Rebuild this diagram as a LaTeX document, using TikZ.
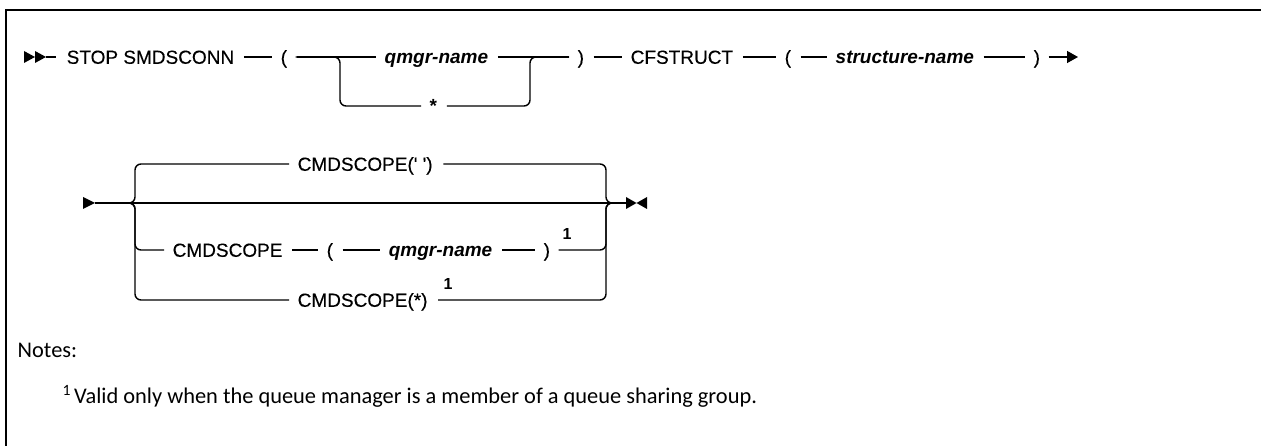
\documentclass[tikz,border=0pt]{standalone}
\usepackage{fontspec}
\setmainfont{Liberation Sans}
\newfontfamily\kwfont[FakeBold=0.3]{Liberation Sans}
\newfontfamily\notefont{Carlito}
\usetikzlibrary{arrows.meta,positioning}
\begin{document}
\begin{tikzpicture}[x=1pt,y=-1pt,line width=1.4pt,
  kw/.style={inner sep=0pt,anchor=west,text height=13.6pt,text depth=0pt,font=\kwfont\fontsize{19}{22}\selectfont},
  var/.style={kw,font=\fontsize{19}{22}\selectfont\bfseries\itshape},
  fn/.style={inner sep=0pt,anchor=base west,font=\fontsize{16}{18}\selectfont\bfseries},
  note/.style={inner sep=0pt,anchor=base west,font=\notefont\fontsize{22.4}{26}\selectfont},
  rail/.style={rounded corners=6pt},
  railseg/.style={shorten <=9pt,shorten >=8pt}]
\useasboundingbox (0,0) rectangle (1261,446);
% frame
\draw[line width=2.6pt] (6,446) -- (6,10) -- (1261,10);
% first line
\fill (24,51)--(35,57)--(24,63)--cycle (35,51)--(46,57)--(35,63)--cycle;
\coordinate (b1) at (46,57);
\node[kw] (stop) at (66,57) {STOP SMDSCONN};
\node[kw] (lp1) at (280,57) {(};
\node[var] (qm1) at (384,57) {qmgr-name};
\node[kw,font=\fontsize{19}{22}\selectfont\bfseries] (star) at (429,106) {*};
\node[kw] (rp1) at (577,57) {)};
\node[kw] (cfs) at (630,57) {CFSTRUCT};
\node[kw] (lp2) at (784,57) {(};
\node[var] (sname) at (835,57) {structure-name};
\node[kw] (rp2) at (1033,57) {)};
\coordinate (ja) at (340,57);
\coordinate (jb) at (530,57);
\coordinate (e1) at (1078,57);
\draw[shorten >=10pt] (b1) -- (stop.west);
\draw[railseg] (stop) -- (lp1);
\draw[railseg] (lp1) -- (qm1);
\draw[rail,shorten <=8pt,shorten >=8pt] (lp1.east) -- (ja) -- (ja |- star) -- (star.west);
\draw[railseg] (qm1) -- (rp1);
\draw[rail,shorten <=9pt,shorten >=8pt] (star.east) -- (jb |- star) -- (jb) -- (rp1.west);
\draw[railseg] (rp1) -- (cfs);
\draw[railseg] (cfs) -- (lp2);
\draw[railseg] (lp2) -- (sname);
\draw[railseg] (sname) -- (rp2);
\draw[-{Triangle[length=11pt,width=12pt]},shorten <=8pt] (rp2) -- (e1);
% second line
\fill (83,197)--(95,203)--(83,209)--cycle;
\coordinate (b2) at (95,203);
\coordinate (jl) at (135,203);
\coordinate (jr) at (606,203);
\coordinate (e2) at (626,203);
\node[kw] (cs1) at (297,164) {CMDSCOPE(' ')};
\node[kw] (cs2) at (172,250) {CMDSCOPE};
\node[kw] (lp3) at (326,250) {(};
\node[var,anchor=east] (qm3) at (493,250) {qmgr-name};
\node[kw] (rp3) at (543,250) {)};
\node[fn] (fn1) at (562,240) {1};
\node[kw] (cs3) at (297,300) {CMDSCOPE(*)};
\node[fn] (fn2) at (443,290) {1};
\draw (b2) -- (e2);
\draw[rail,shorten >=8pt] (b2) -- (jl) -- (jl |- cs1) -- (cs1.west);
\draw[rail,shorten >=8pt] (b2) -- (jl) -- (jl |- cs2) -- (cs2.west);
\draw[rail,shorten >=8pt] (b2) -- (jl) -- (jl |- cs3) -- (cs3.west);
\draw[railseg] (cs2) -- (lp3);
\draw[railseg] (lp3) -- (qm3);
\draw[railseg] (qm3) -- (rp3);
\draw[rail,shorten <=10pt] (cs1.east) -- (jr |- cs1) -- (jr) -- (e2);
\draw[rail,shorten <=8pt] (rp3.east) -- (jr |- rp3) -- (jr) -- (e2);
\draw[rail,shorten <=10pt] (cs3.east) -- (jr |- cs3) -- (jr) -- (e2);
\fill (626,197)--(636.5,203)--(626,209)--cycle (647,197)--(636.5,203)--(647,209)--cycle;
% notes
\node[note] (notes) at (17,357) {Notes:};
\node[note] (n1) at (62,403) {\textsuperscript{1}\hspace{3pt}Valid only when the queue manager is a member of a queue sharing group.};
\end{tikzpicture}
\end{document}
